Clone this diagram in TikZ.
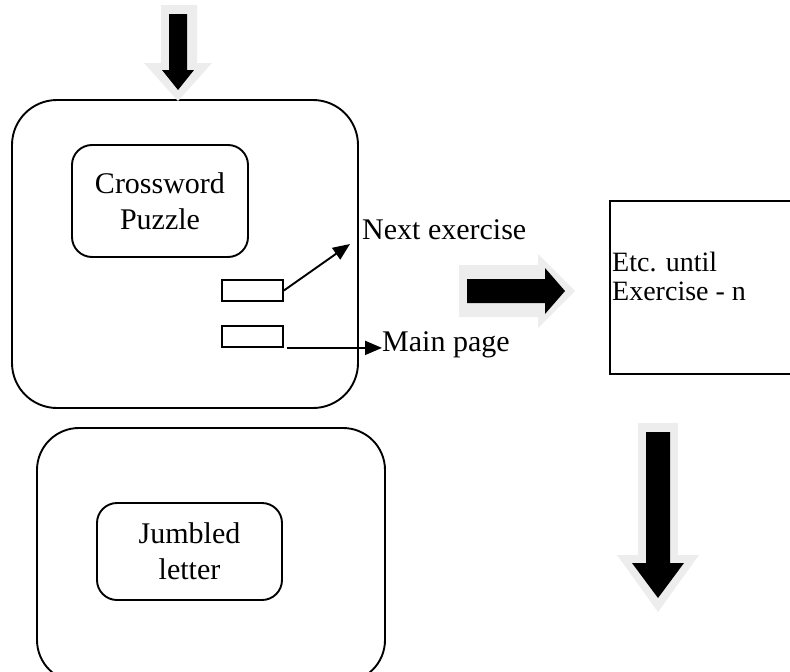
\documentclass[tikz,border=0pt]{standalone}
\usepackage{fontspec}
\setmainfont{Liberation Serif}
\usetikzlibrary{arrows.meta}
\definecolor{halo}{HTML}{EDEDED}
\begin{document}
\begin{tikzpicture}[x=1pt,y=-1pt,
  frame/.style={draw, line width=1.9pt, rounded corners=#1, inner sep=0pt},
  plain/.style={draw, line width=1.8pt, inner sep=0pt},
  txt/.style={font=\fontsize{30}{36}\selectfont, align=center},
  ltxt/.style={font=\fontsize{30}{30}\selectfont, align=left, inner sep=0pt, anchor=west},
  link/.style={line width=1.9pt, -{Triangle[length=17pt,width=14pt]}}
]
\useasboundingbox (0,0) rectangle (790,672);
\clip (0,0) rectangle (790,672);
% outer frames
\node[frame=45pt, minimum width=346pt, minimum height=308pt] (f1) at (185,254) {};
\node[frame=42pt, minimum width=348pt, minimum height=254pt] (f2) at (211,555) {};
% inner boxes
\node[frame=20pt, txt, minimum width=176pt, minimum height=112pt] (cw) at (160,201) {Crossword\\Puzzle};
\node[frame=20pt, txt, minimum width=185pt, minimum height=97pt] (jl) at (189.5,551.5) {Jumbled\\letter};
% small buttons
\node[plain, minimum width=61pt, minimum height=21pt] (b1) at (252.5,290.5) {};
\node[plain, minimum width=61pt, minimum height=21pt] (b2) at (252.5,336.5) {};
% labels
\node[ltxt] (nx) at (362,230) {Next exercise};
\node[ltxt] (mp) at (382,345) {Main page};
\coordinate (tipn) at (350,244);
\draw[link] (b1.east) -- (tipn);
\draw[link] ([xshift=3pt]b2.south east) -- (b2.south east -| mp.west);
% right box
\node[plain, line width=1.9pt, minimum width=260pt, minimum height=173pt, anchor=north west] (rb) at (609,200) {};
\node[ltxt, font=\fontsize{28}{28}\selectfont, align=left] (et) at (612,276) {Etc. until\\[1pt]Exercise - n};
% block arrows: top down arrow
\fill[halo] (161,5) -- (197,5) -- (197,63) -- (212,63) -- (178,101) -- (144,63) -- (161,63) -- cycle;
\fill[black] (169,14) -- (187,14) -- (187,70) -- (194,70) -- (178,90) -- (162,70) -- (169,70) -- cycle;
% right arrow
\fill[halo] (459,265) -- (538,265) -- (538,254) -- (575,291) -- (538,328) -- (538,317) -- (459,317) -- cycle;
\fill[black] (467,279) -- (545,279) -- (545,268) -- (565,291) -- (545,314) -- (545,303) -- (467,303) -- cycle;
% bottom down arrow
\fill[halo] (638,423) -- (678,423) -- (678,555) -- (699,555) -- (658,612) -- (617,555) -- (638,555) -- cycle;
\fill[black] (646,432) -- (670,432) -- (670,563) -- (684,563) -- (658,598) -- (632,563) -- (646,563) -- cycle;
\end{tikzpicture}
\end{document}
